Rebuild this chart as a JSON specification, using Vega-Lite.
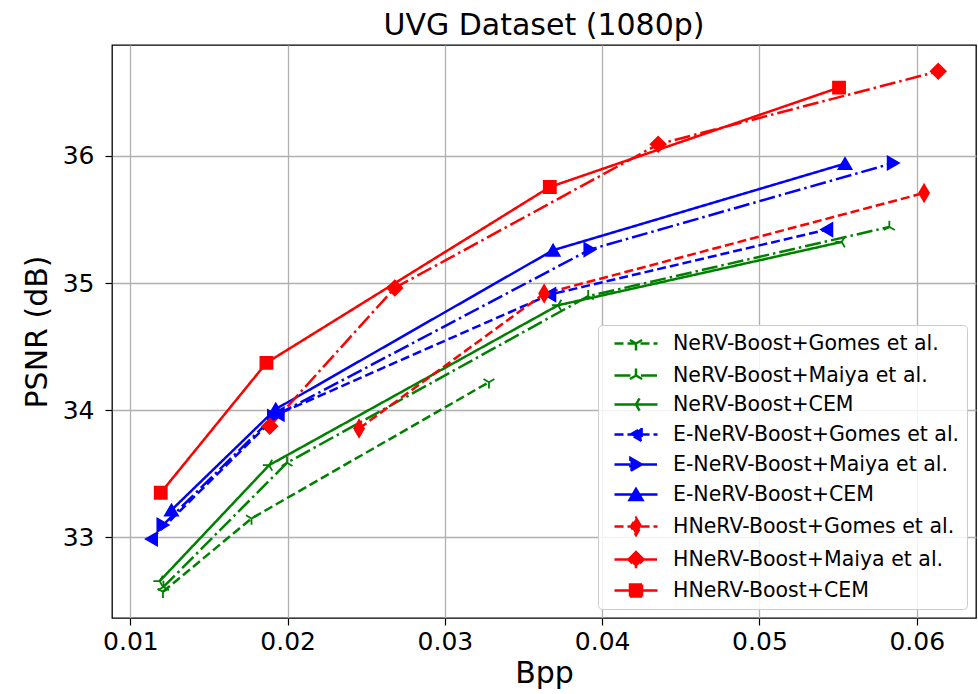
{
  "$schema": "https://vega.github.io/schema/vega-lite/v6.json",
  "width": 864,
  "height": 573,
  "autosize": {"type": "none"},
  "padding": {"left": 112, "top": 45, "right": 2, "bottom": 76},
  "background": "white",
  "title": {"text": "UVG Dataset (1080p)", "fontSize": 30, "font": "DejaVu Sans", "fontWeight": "normal", "color": "black", "offset": 4},
  "config": {
    "font": "DejaVu Sans",
    "view": {"stroke": "black", "strokeWidth": 1.3},
    "axis": {"domain": false, "grid": true, "gridColor": "#b0b0b0", "gridWidth": 1.3, "tickColor": "black", "tickSize": 7, "tickWidth": 1.2, "labelFont": "DejaVu Sans", "labelFontSize": 25, "labelColor": "black", "titleFont": "DejaVu Sans", "titleFontSize": 30, "titleFontWeight": "normal", "titleColor": "black"}
  },
  "data": {"values": [
    {"series": "NeRV-Boost+Gomes et al.", "bpp": 0.01207, "psnr": 32.572},
    {"series": "NeRV-Boost+Gomes et al.", "bpp": 0.01770, "psnr": 33.149},
    {"series": "NeRV-Boost+Gomes et al.", "bpp": 0.03280, "psnr": 34.221},
    {"series": "NeRV-Boost+Maiya et al.", "bpp": 0.01210, "psnr": 32.610},
    {"series": "NeRV-Boost+Maiya et al.", "bpp": 0.01996, "psnr": 33.587},
    {"series": "NeRV-Boost+Maiya et al.", "bpp": 0.03911, "psnr": 34.897},
    {"series": "NeRV-Boost+Maiya et al.", "bpp": 0.05826, "psnr": 35.442},
    {"series": "NeRV-Boost+CEM", "bpp": 0.01186, "psnr": 32.656},
    {"series": "NeRV-Boost+CEM", "bpp": 0.01882, "psnr": 33.568},
    {"series": "NeRV-Boost+CEM", "bpp": 0.03720, "psnr": 34.826},
    {"series": "NeRV-Boost+CEM", "bpp": 0.05523, "psnr": 35.324},
    {"series": "E-NeRV-Boost+Gomes et al.", "bpp": 0.01134, "psnr": 32.987},
    {"series": "E-NeRV-Boost+Gomes et al.", "bpp": 0.01940, "psnr": 33.970},
    {"series": "E-NeRV-Boost+Gomes et al.", "bpp": 0.03667, "psnr": 34.910},
    {"series": "E-NeRV-Boost+Gomes et al.", "bpp": 0.05428, "psnr": 35.421},
    {"series": "E-NeRV-Boost+Maiya et al.", "bpp": 0.01207, "psnr": 33.097},
    {"series": "E-NeRV-Boost+Maiya et al.", "bpp": 0.01910, "psnr": 33.950},
    {"series": "E-NeRV-Boost+Maiya et al.", "bpp": 0.03922, "psnr": 35.264},
    {"series": "E-NeRV-Boost+Maiya et al.", "bpp": 0.05851, "psnr": 35.945},
    {"series": "E-NeRV-Boost+CEM", "bpp": 0.01261, "psnr": 33.215},
    {"series": "E-NeRV-Boost+CEM", "bpp": 0.01924, "psnr": 34.009},
    {"series": "E-NeRV-Boost+CEM", "bpp": 0.03688, "psnr": 35.259},
    {"series": "E-NeRV-Boost+CEM", "bpp": 0.05544, "psnr": 35.940},
    {"series": "HNeRV-Boost+Gomes et al.", "bpp": 0.02454, "psnr": 33.857},
    {"series": "HNeRV-Boost+Gomes et al.", "bpp": 0.03631, "psnr": 34.918},
    {"series": "HNeRV-Boost+Gomes et al.", "bpp": 0.06047, "psnr": 35.709},
    {"series": "HNeRV-Boost+Maiya et al.", "bpp": 0.01886, "psnr": 33.875},
    {"series": "HNeRV-Boost+Maiya et al.", "bpp": 0.02681, "psnr": 34.962},
    {"series": "HNeRV-Boost+Maiya et al.", "bpp": 0.04356, "psnr": 36.092},
    {"series": "HNeRV-Boost+Maiya et al.", "bpp": 0.06137, "psnr": 36.666},
    {"series": "HNeRV-Boost+CEM", "bpp": 0.01193, "psnr": 33.351},
    {"series": "HNeRV-Boost+CEM", "bpp": 0.01865, "psnr": 34.373},
    {"series": "HNeRV-Boost+CEM", "bpp": 0.03667, "psnr": 35.756},
    {"series": "HNeRV-Boost+CEM", "bpp": 0.05506, "psnr": 36.538}
  ]},
  "encoding": {
    "x": {"field": "bpp", "type": "quantitative", "title": "Bpp",
      "scale": {"domain": [0.00883, 0.06377], "nice": false, "zero": false},
      "axis": {"values": [0.01, 0.02, 0.03, 0.04, 0.05, 0.06], "format": ".2f", "labelPadding": 4, "titlePadding": 4}},
    "y": {"field": "psnr", "type": "quantitative", "title": "PSNR (dB)",
      "scale": {"domain": [32.366, 36.873], "nice": false, "zero": false},
      "axis": {"values": [33, 34, 35, 36], "labelPadding": 11, "titlePadding": 10}}
  },
  "layer": [
    {
      "mark": {"type": "line", "strokeWidth": 2.5},
      "encoding": {
        "color": {"field": "series", "type": "nominal", "title": null,
          "scale": {"domain": ["NeRV-Boost+Gomes et al.", "NeRV-Boost+Maiya et al.", "NeRV-Boost+CEM", "E-NeRV-Boost+Gomes et al.", "E-NeRV-Boost+Maiya et al.", "E-NeRV-Boost+CEM", "HNeRV-Boost+Gomes et al.", "HNeRV-Boost+Maiya et al.", "HNeRV-Boost+CEM"],
            "range": ["#008000", "#008000", "#008000", "#0000ff", "#0000ff", "#0000ff", "#ff0000", "#ff0000", "#ff0000"]},
          "legend": {
            "orient": "bottom-right", "offset": 9, "padding": 7, "fillColor": "rgba(255,255,255,0.85)", "strokeColor": "#cccccc", "cornerRadius": 4,
            "labelFont": "DejaVu Sans", "labelFontSize": 20.5, "labelColor": "black", "labelOffset": 45, "labelLimit": 400,
            "symbolSize": 400, "symbolStrokeWidth": 2.5, "rowPadding": 7,
            "encode": {"symbols": {"update": {
              "shape": {"signal": "['M-0.2,0L4.1,0M1.95,0L1.95,0.7M1.95,0L1.34,-0.35M1.95,0L2.56,-0.35', 'M-0.2,0L4.1,0M1.95,0L1.95,-0.7M1.95,0L1.34,0.35M1.95,0L2.56,0.35', 'M-0.2,0L4.1,0M1.95,0L2.3,-0.61M1.95,0L2.3,0.61', 'M-0.2,0L4.1,0M1.39,0L2.51,-0.65L2.51,0.65Z', 'M-0.2,0L4.1,0M2.51,0L1.39,-0.65L1.39,0.65Z', 'M-0.2,0L4.1,0M1.95,-0.56L2.6,0.56L1.3,0.56Z', 'M-0.2,0L4.1,0M1.95,-0.85L2.45,0L1.95,0.85L1.45,0Z', 'M-0.2,0L4.1,0M1.95,-0.75L2.7,0L1.95,0.75L1.2,0Z', 'M-0.2,0L4.1,0M1.35,-0.6L2.55,-0.6L2.55,0.6L1.35,0.6Z'][datum.index]"},
              "fill": {"signal": "['#008000','#008000','#008000','#0000ff','#0000ff','#0000ff','#ff0000','#ff0000','#ff0000'][datum.index]"},
              "stroke": {"signal": "['#008000','#008000','#008000','#0000ff','#0000ff','#0000ff','#ff0000','#ff0000','#ff0000'][datum.index]"},
              "strokeWidth": {"value": 2.5}
            }}}
          }},
        "strokeDash": {"field": "series", "type": "nominal", "title": null,
          "scale": {"domain": ["NeRV-Boost+Gomes et al.", "NeRV-Boost+Maiya et al.", "NeRV-Boost+CEM", "E-NeRV-Boost+Gomes et al.", "E-NeRV-Boost+Maiya et al.", "E-NeRV-Boost+CEM", "HNeRV-Boost+Gomes et al.", "HNeRV-Boost+Maiya et al.", "HNeRV-Boost+CEM"],
            "range": [[9, 4], [16, 4, 2.5, 4], [1, 0], [9, 4], [16, 4, 2.5, 4], [1, 0], [9, 4], [16, 4, 2.5, 4], [1, 0]]}},
        "order": {"field": "bpp", "type": "quantitative"}
      }
    },
    {
      "mark": {"type": "point", "filled": true, "opacity": 1, "strokeWidth": 1.8, "size": 196},
      "encoding": {
        "color": {"field": "series", "type": "nominal", "title": null},
        "stroke": {"field": "series", "type": "nominal", "title": null, "legend": null,
          "scale": {"domain": ["NeRV-Boost+Gomes et al.", "NeRV-Boost+Maiya et al.", "NeRV-Boost+CEM", "E-NeRV-Boost+Gomes et al.", "E-NeRV-Boost+Maiya et al.", "E-NeRV-Boost+CEM", "HNeRV-Boost+Gomes et al.", "HNeRV-Boost+Maiya et al.", "HNeRV-Boost+CEM", "-"],
            "range": ["#008000", "#008000", "#008000", "#0000ff", "#0000ff", "#0000ff", "#ff0000", "#ff0000", "#ff0000", "#000000"]}},
        "shape": {"field": "series", "type": "nominal", "title": null, "legend": null,
          "scale": {"domain": ["NeRV-Boost+Gomes et al.", "NeRV-Boost+Maiya et al.", "NeRV-Boost+CEM", "E-NeRV-Boost+Gomes et al.", "E-NeRV-Boost+Maiya et al.", "E-NeRV-Boost+CEM", "HNeRV-Boost+Gomes et al.", "HNeRV-Boost+Maiya et al.", "HNeRV-Boost+CEM", "--"],
            "range": [
              "M0,0L0,0.9M0,0L-0.78,-0.45M0,0L0.78,-0.45",
              "M0,0L0,-0.9M0,0L-0.78,0.45M0,0L0.78,0.45",
              "M0,0L-0.9,0M0,0L0.45,-0.78M0,0L0.45,0.78",
              "M-0.8,0L0.8,-0.93L0.8,0.93Z",
              "M0.8,0L-0.8,-0.93L-0.8,0.93Z",
              "M0,-0.8L0.93,0.8L-0.93,0.8Z",
              "M0,-1.2L0.7,0L0,1.2L-0.7,0Z",
              "M0,-1.07L1.07,0L0,1.07L-1.07,0Z",
              "M-0.86,-0.86L0.86,-0.86L0.86,0.86L-0.86,0.86Z",
              "circle"
            ]}}
      }
    }
  ]
}
